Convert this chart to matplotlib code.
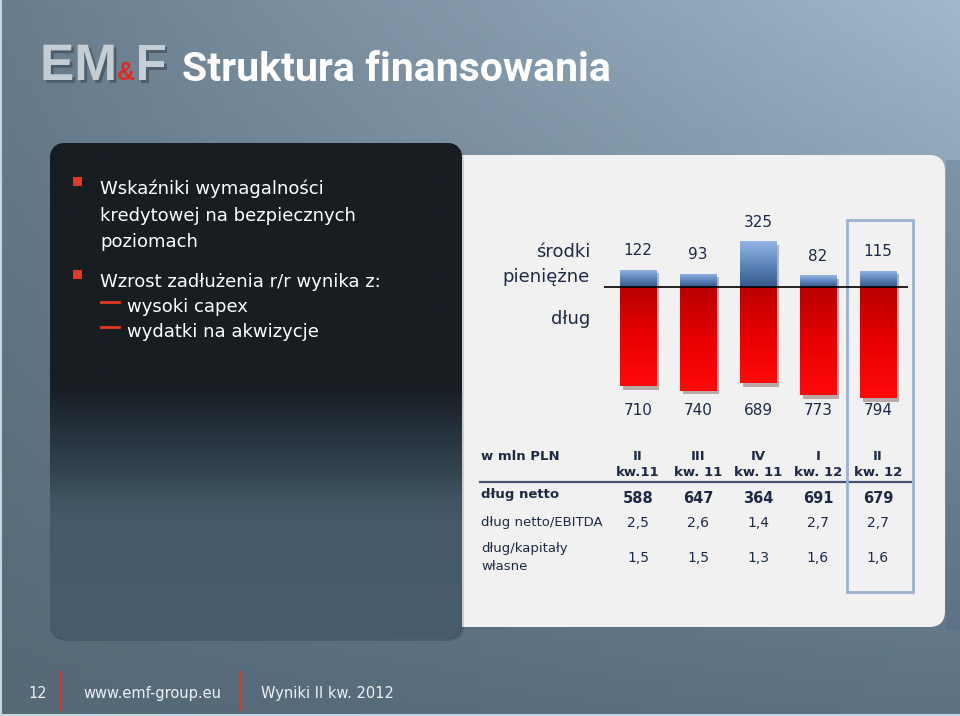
import matplotlib
matplotlib.use("Agg")
import matplotlib.pyplot as plt
import matplotlib.patheffects as pe
import matplotlib.transforms as mtransforms
from matplotlib.colors import LinearSegmentedColormap
from matplotlib.patches import FancyBboxPatch, Rectangle
import numpy as np

W, H = 960, 716

TITLE = "Struktura finansowania"
QUARTERS = ["II\nkw.11", "III\nkw. 11", "IV\nkw. 11", "I\nkw. 12", "II\nkw. 12"]
CASH = [122, 93, 325, 82, 115]
DEBT = [710, 740, 689, 773, 794]
NET_DEBT = [588, 647, 364, 691, 679]
NET_DEBT_EBITDA = [2.5, 2.6, 1.4, 2.7, 2.7]
DEBT_EQUITY = [1.5, 1.5, 1.3, 1.6, 1.6]

BULLETS = [
    ["Wskaźniki wymagalności", "kredytowej na bezpiecznych", "poziomach"],
    ["Wzrost zadłużenia r/r wynika z:"],
]
SUB_BULLETS = ["wysoki capex", "wydatki na akwizycje"]
FOOTER = ["12", "www.emf-group.eu", "Wyniki II kw. 2012"]

NAVY = "#1c2a48"
ORANGE_RED = "#e5391e"

RED_CMAP = LinearSegmentedColormap.from_list("debt", ["#ff0a0a", "#e80000", "#b80000"])
BLUE_CMAP = LinearSegmentedColormap.from_list("cash", ["#35598a", "#5f86bb", "#93b6e6"])
PANEL_CMAP = LinearSegmentedColormap.from_list(
    "panel",
    [(0, "#191d22"), (0.49, "#181d23"), (0.58, "#25313c"), (0.66, "#33444f"),
     (0.72, "#3f5361"), (0.77, "#465a69"), (1, "#485d6c")],
)


def pl(value: float) -> str:
    return f"{value:.1f}".replace(".", ",")


def corner_gradient(tl, tr, bl, br, shape=(72, 96)) -> np.ndarray:
    h, w = shape
    yy = np.linspace(0, 1, h)[:, None, None]
    xx = np.linspace(0, 1, w)[None, :, None]
    tl, tr, bl, br = (np.array(c) / 255 for c in (tl, tr, bl, br))
    top = tl * (1 - xx) + tr * xx
    bottom = bl * (1 - xx) + br * xx
    return top * (1 - yy) + bottom * yy


def fill_gradient(ax: plt.Axes, bars, cmap) -> None:
    grad = np.linspace(0, 1, 256)[:, None]
    for bar in bars:
        x0, y0 = bar.get_x(), bar.get_y()
        y1 = y0 + bar.get_height()
        im = ax.imshow(
            grad, cmap=cmap, origin="lower", aspect="auto", zorder=3,
            extent=(x0, x0 + bar.get_width(), min(y0, y1), max(y0, y1)),
        )
        im.set_clip_path(bar)


def draw_background(fig: plt.Figure) -> plt.Axes:
    bg = fig.add_axes([0, 0, 1, 1], zorder=0)
    bg.set_xlim(0, W)
    bg.set_ylim(H, 0)
    bg.axis("off")

    sky = corner_gradient((104, 124, 140), (160, 184, 203), (84, 104, 118), (92, 114, 130))
    bg.imshow(sky, extent=(0, W, H, 0), aspect="auto", zorder=0)
    bg.add_patch(Rectangle((946, 160), 14, 470, fc="#4f667a", ec="none", alpha=0.3, zorder=1))
    bg.plot([0, W], [715, 715], color="#c9d5de", lw=1.5, zorder=1)
    bg.plot([0.8, 0.8], [0, H], color="#c9d5de", lw=1.5, zorder=1)

    light = FancyBboxPatch((440, 155), 505, 472, boxstyle="round,pad=0,rounding_size=16",
                           fc="#f1f1f1", ec="none", zorder=2)
    bg.add_patch(light)

    shadow = FancyBboxPatch((52, 145), 412, 496, boxstyle="round,pad=0,rounding_size=16",
                            fc="black", ec="none", alpha=0.15, zorder=3)
    bg.add_patch(shadow)
    panel = FancyBboxPatch((50, 143), 412, 496, boxstyle="round,pad=0,rounding_size=16",
                           fc="#1c2229", ec="none", zorder=4)
    bg.add_patch(panel)
    grad = np.linspace(0, 1, 256)[:, None]
    im = bg.imshow(grad, cmap=PANEL_CMAP, extent=(50, 462, 639, 143), aspect="auto", zorder=5)
    im.set_clip_path(panel)
    return bg


def draw_header(fig: plt.Figure, bg: plt.Axes) -> None:
    renderer = fig.canvas.get_renderer()
    to_data = bg.transData.inverted()
    shadow = [pe.SimplePatchShadow(offset=(2, -2), shadow_rgbFace="#2a3440", alpha=0.45), pe.Normal()]
    logo_style = dict(family=["Liberation Sans"], weight="bold", fontsize=37,
                      color="#c4ccd4", va="baseline", zorder=6, path_effects=shadow)

    em = bg.text(40, 80, "EM", **logo_style)
    x_end = to_data.transform(em.get_window_extent(renderer).p1)[0]
    amp = bg.text(x_end, 80, "&", family=["Liberation Sans"], weight="bold", fontsize=18,
                  color="#e4261c", va="baseline", zorder=7)
    x_end = to_data.transform(amp.get_window_extent(renderer).p1)[0]
    bg.text(x_end, 80, "F", **logo_style)

    bg.text(182, 81, TITLE, family=["Roboto", "DejaVu Sans"], weight="bold", fontsize=29.5,
            color="white", va="baseline", zorder=6)


def draw_bullets(bg: plt.Axes) -> None:
    text_style = dict(fontsize=13, color="white", va="baseline", zorder=6)
    baselines = [[194, 221, 247], [287]]
    for lines, ys in zip(BULLETS, baselines):
        bg.add_patch(Rectangle((73, ys[0] - 17), 9, 9, fc=ORANGE_RED, ec="none", zorder=6))
        for line, y in zip(lines, ys):
            bg.text(100, y, line, **text_style)
    for line, y in zip(SUB_BULLETS, [312, 337]):
        bg.plot([101, 119], [y - 10, y - 10], color=ORANGE_RED, lw=2, zorder=6)
        bg.text(127, y, line, **text_style)


def draw_footer(bg: plt.Axes) -> None:
    style = dict(fontsize=10.5, color="#eef2f5", va="baseline", zorder=6)
    for text, x in zip(FOOTER, [28, 83, 261]):
        bg.text(x, 698, text, **style)
    for x in [61, 240]:
        bg.plot([x, x], [672, 710], color="#d9381e", lw=1.5, zorder=6)


def draw_chart(fig: plt.Figure, bg: plt.Axes) -> plt.Axes:
    ax = fig.add_axes([600 / W, (H - 420) / H, 320 / W, 220 / H], zorder=1)
    ax.patch.set_visible(False)
    positions = np.arange(len(CASH))
    shadow = [pe.SimplePatchShadow(offset=(2.5, -2.5), alpha=0.3), pe.Normal()]

    cash_bars = ax.bar(positions, CASH, width=0.6, color="#5f86bb", zorder=2, path_effects=shadow)
    debt_bars = ax.bar(positions, [-d for d in DEBT], width=0.6, color="#e80000", zorder=2,
                       path_effects=shadow)
    fill_gradient(ax, cash_bars, BLUE_CMAP)
    fill_gradient(ax, debt_bars, RED_CMAP)
    ax.hlines(0, -0.57, 4.5, color="black", lw=1.2, zorder=5)

    for i, value in enumerate(CASH):
        ax.annotate(str(value), (i, value), xytext=(0, 14), textcoords="offset points",
                    ha="center", va="center", fontsize=11, color=NAVY)
    for i, value in enumerate(DEBT):
        ax.text(i, -879, str(value), ha="center", va="center", fontsize=11, color=NAVY)

    ax.set_xlim(-0.633, 4.7)
    ax.set_ylim(-950, 621)
    ax.axis("off")

    label_style = dict(fontsize=13, color=NAVY, ha="right", va="baseline", zorder=6)
    bg.text(590, 257, "środki", **label_style)
    bg.text(590, 282, "pieniężne", **label_style)
    bg.text(590, 324, "dług", **label_style)
    return ax


def draw_table(ax: plt.Axes, bg: plt.Axes) -> None:
    cols = mtransforms.blended_transform_factory(ax.transData, bg.transData)
    bold = dict(fontsize=9.5, weight="bold", color=NAVY, va="baseline", zorder=6)
    plain = dict(fontsize=9.5, color=NAVY, va="baseline", zorder=6)

    bg.text(481, 460, "w mln PLN", **bold)
    for i, quarter in enumerate(QUARTERS):
        top, bottom = quarter.split("\n")
        bg.text(i, 460, top, transform=cols, ha="center", **bold)
        bg.text(i, 476, bottom, transform=cols, ha="center", **bold)
    bg.plot([480, 911], [482, 482], color="#44546e", lw=1.6, zorder=6)

    bg.text(481, 498, "dług netto", **bold)
    bg.text(481, 526, "dług netto/EBITDA", **plain)
    bg.text(481, 552, "dług/kapitały", **plain)
    bg.text(481, 570, "własne", **plain)
    for i in range(len(NET_DEBT)):
        bg.text(i, 503, str(NET_DEBT[i]), transform=cols, ha="center",
                **{**bold, "fontsize": 10.5})
        bg.text(i, 527, pl(NET_DEBT_EBITDA[i]), transform=cols, ha="center",
                **{**plain, "fontsize": 10})
        bg.text(i, 562, pl(DEBT_EQUITY[i]), transform=cols, ha="center",
                **{**plain, "fontsize": 10})

    bg.add_patch(Rectangle((847, 220), 66, 372, fill=False, ec="#9bb2d3", lw=2, zorder=7))


def start() -> None:
    fig = plt.figure(figsize=(W / 100, H / 100), dpi=100)
    bg = draw_background(fig)
    draw_header(fig, bg)
    draw_bullets(bg)
    draw_footer(bg)
    ax = draw_chart(fig, bg)
    draw_table(ax, bg)
    fig.savefig("out.png", dpi=100)


if __name__ == "__main__":
    start()
